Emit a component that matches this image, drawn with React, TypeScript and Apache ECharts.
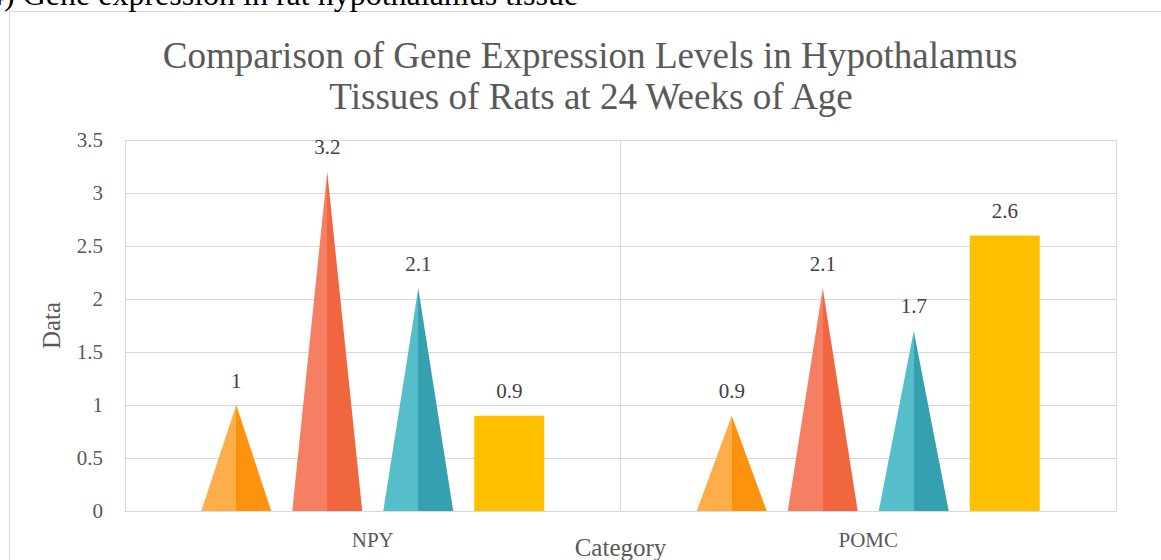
import React, { useEffect, useRef } from "react";
import * as echarts from "echarts";

const categories = ["NPY", "POMC"];
const seriesNames = ["Series 1", "Series 2", "Series 3", "Series 4"];
const series1 = [1, 0.9];
const series2 = [3.2, 2.1];
const series3 = [2.1, 1.7];
const series4 = [0.9, 2.6];
const yTicks = { min: 0, max: 3.5, interval: 0.5 };

const SERIF = "Liberation Serif";

function split(light: string, dark: string) {
  return {
    type: "linear",
    x: 0,
    y: 0,
    x2: 1,
    y2: 0,
    colorStops: [
      { offset: 0, color: light },
      { offset: 0.5, color: light },
      { offset: 0.5, color: dark },
      { offset: 1, color: dark },
    ],
  };
}

export default function App() {
  const ref = useRef<HTMLDivElement>(null);
  useEffect(() => {
    if (!ref.current) return;
    const chart = echarts.init(ref.current, undefined, { renderer: "svg" });
    const label = {
      show: true,
      position: "top",
      distance: 14,
      color: "#404040",
      fontSize: 21,
      fontFamily: SERIF,
    };
    const mk = (name: string, data: number[], symbol: string, color: any) => ({
      name,
      type: "pictorialBar",
      data,
      symbol,
      symbolSize: ["100%", "100%"],
      barWidth: 70,
      barGap: "30%",
      itemStyle: { color },
      label,
    });
    chart.setOption({
      animation: false,
      graphic: [
        {
          type: "rect",
          shape: { x: 9.5, y: 11.5, width: 1300, height: 700 },
          style: { fill: "none", stroke: "#d9d9d9", lineWidth: 1 },
          silent: true,
        },
        {
          type: "text",
          x: -12,
          y: -6,
          style: {
            text: "4) Gene expression in rat hypothalamus tissue",
            fontFamily: SERIF,
            fontSize: 32,
            fill: "#000000",
            verticalAlign: "middle",
          },
        },
        {
          type: "text",
          x: 590,
          y: 55,
          style: {
            text: "Comparison of Gene Expression Levels in Hypothalamus",
            fontFamily: SERIF,
            fontSize: 37.1,
            fill: "#595959",
            align: "center",
            verticalAlign: "middle",
          },
        },
        {
          type: "text",
          x: 591,
          y: 96,
          style: {
            text: "Tissues of Rats at 24 Weeks of Age",
            fontFamily: SERIF,
            fontSize: 37.1,
            fill: "#595959",
            align: "center",
            verticalAlign: "middle",
          },
        },
      ],
      grid: {
        left: 125,
        right: 45,
        top: 140,
        bottom: 49,
        containLabel: false,
        outerBoundsMode: "none",
      },
      xAxis: {
        type: "category",
        data: categories,
        axisTick: { show: false },
        axisLine: { lineStyle: { color: "#d9d9d9", width: 1 } },
        splitLine: { show: true, lineStyle: { color: "#d9d9d9", width: 1 } },
        axisLabel: { fontFamily: SERIF, fontSize: 21, color: "#595959", margin: 18 },
        name: "Category",
        nameLocation: "middle",
        nameGap: 24,
        nameMoveOverlap: false,
        nameTextStyle: { fontFamily: SERIF, fontSize: 25, color: "#595959" },
      },
      yAxis: {
        type: "value",
        min: yTicks.min,
        max: yTicks.max,
        interval: yTicks.interval,
        axisLine: { show: true, lineStyle: { color: "#d9d9d9", width: 1 } },
        axisTick: { show: false },
        splitLine: { show: true, lineStyle: { color: "#d9d9d9", width: 1 } },
        axisLabel: { fontFamily: SERIF, fontSize: 21, color: "#595959", margin: 22 },
        name: "Data",
        nameLocation: "middle",
        nameGap: 61,
        nameMoveOverlap: false,
        nameTextStyle: { fontFamily: SERIF, fontSize: 25, color: "#595959" },
      },
      series: [
        mk(seriesNames[0], series1, "triangle", split("#FDAD4A", "#FD930D")),
        mk(seriesNames[1], series2, "triangle", split("#F47F62", "#F0673F")),
        mk(seriesNames[2], series3, "triangle", split("#56BDCB", "#35A0B0")),
        mk(seriesNames[3], series4, "rect", "#FFC000"),
      ],
    });
    return () => chart.dispose();
  }, []);
  return (
    <div
      ref={ref}
      style={{ position: "absolute", left: 0, top: 0, width: 1161, height: 560 }}
    />
  );
}
